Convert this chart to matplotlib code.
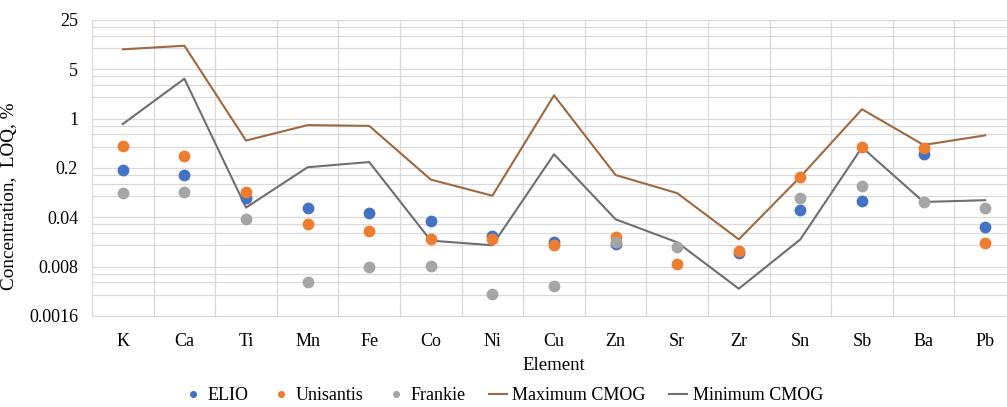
import numpy as np
import matplotlib.pyplot as plt
from matplotlib.ticker import FixedLocator, LogLocator, NullFormatter

plt.rcParams['font.family'] = ['Liberation Serif', 'DejaVu Serif']

elementos = ["K", "Ca", "Ti", "Mn", "Fe", "Co", "Ni", "Cu", "Zn", "Sr", "Zr", "Sn", "Sb", "Ba", "Pb"]

# valores (LOQ, %)
elio = [0.189, 0.161, 0.076, 0.055, 0.046, 0.035, 0.0217, 0.0181, 0.0168, np.nan, 0.0124, 0.050, 0.068, 0.316, 0.029]
unisantis = [0.414, 0.293, 0.092, 0.032, 0.026, 0.0197, 0.0197, 0.0161, 0.0213, 0.0088, 0.0135, 0.150, 0.395, 0.38, 0.0175]
frankie = [0.089, 0.091, 0.0375, 0.0049, 0.008, 0.0081, 0.0033, 0.0043, 0.0179, 0.015, np.nan, 0.075, 0.112, 0.066, 0.054]
cmog_max = [9.6, 10.8, 0.49, 0.81, 0.79, 0.137, 0.081, 2.14, 0.159, 0.088, 0.0195, 0.150, 1.36, 0.424, 0.58]
cmog_min = [0.84, 3.68, 0.055, 0.205, 0.243, 0.0187, 0.0161, 0.313, 0.0375, 0.0177, 0.0039, 0.0195, 0.393, 0.066, 0.070]

x = np.arange(len(elementos))

fig = plt.figure(figsize=(10.07, 4.07), dpi=100)
ax = fig.add_axes([92 / 1007, 1 - 316 / 407, 924 / 1007, 296 / 407])

ax.plot(x, cmog_max, color="#9E6841", lw=1.5, label="Maximum CMOG", zorder=2)
ax.plot(x, cmog_min, color="#6F6F6F", lw=1.5, label="Minimum CMOG", zorder=2)
ax.plot(x, elio, "o", color="#4472C4", ms=8.5, mec="none", label="ELIO", zorder=3)
ax.plot(x, unisantis, "o", color="#ED7D31", ms=8.5, mec="none", label="Unisantis", zorder=3)
ax.plot(x, frankie, "o", color="#A5A5A5", ms=8.5, mec="none", label="Frankie", zorder=3)

ax.set_yscale("log", base=5)
ax.set_ylim(0.0016, 25)
ax.set_xlim(-0.5, len(elementos) - 0.5)

marcas = [0.0016, 0.008, 0.04, 0.2, 1, 5, 25]
ax.yaxis.set_major_locator(FixedLocator(marcas))
ax.set_yticklabels(["0.0016", "0.008", "0.04", "0.2", "1", "5", "25"])
ax.yaxis.set_minor_locator(LogLocator(base=5, subs=[2, 3, 4]))
ax.yaxis.set_minor_formatter(NullFormatter())

ax.set_xticks(x)
ax.set_xticklabels(elementos)
ax.set_xticks(np.arange(-0.5, len(elementos)), minor=True)

ax.grid(which="major", axis="y", color="#D9D9D9", lw=0.9)
ax.grid(which="minor", axis="y", color="#D9D9D9", lw=0.9)
ax.grid(which="minor", axis="x", color="#D9D9D9", lw=0.9)
ax.set_axisbelow(True)
ax.tick_params(which="both", length=0, labelsize=13, colors="black")
ax.tick_params(axis="x", pad=12)
ax.tick_params(axis="y", pad=10)
for lado in ["top", "right", "left"]:
    ax.spines[lado].set_visible(False)
ax.spines["bottom"].set_color("#D9D9D9")

ax.set_xlabel("Element", fontsize=13.5, labelpad=5)
ax.set_ylabel("Concentration,  LOQ, %", fontsize=13.8)
ax.yaxis.set_label_coords(-0.08, 0.405)

h, l = ax.get_legend_handles_labels()
orden = [2, 3, 4, 0, 1]
fig.legend([h[i] for i in orden], [l[i] for i in orden], loc="center", bbox_to_anchor=(0.5, 1 - 396 / 407),
           ncol=5, frameon=False, fontsize=13, handlelength=1.0, handletextpad=0.3,
           columnspacing=1.3, markerscale=0.6)

fig.savefig("out.png", dpi=100)
